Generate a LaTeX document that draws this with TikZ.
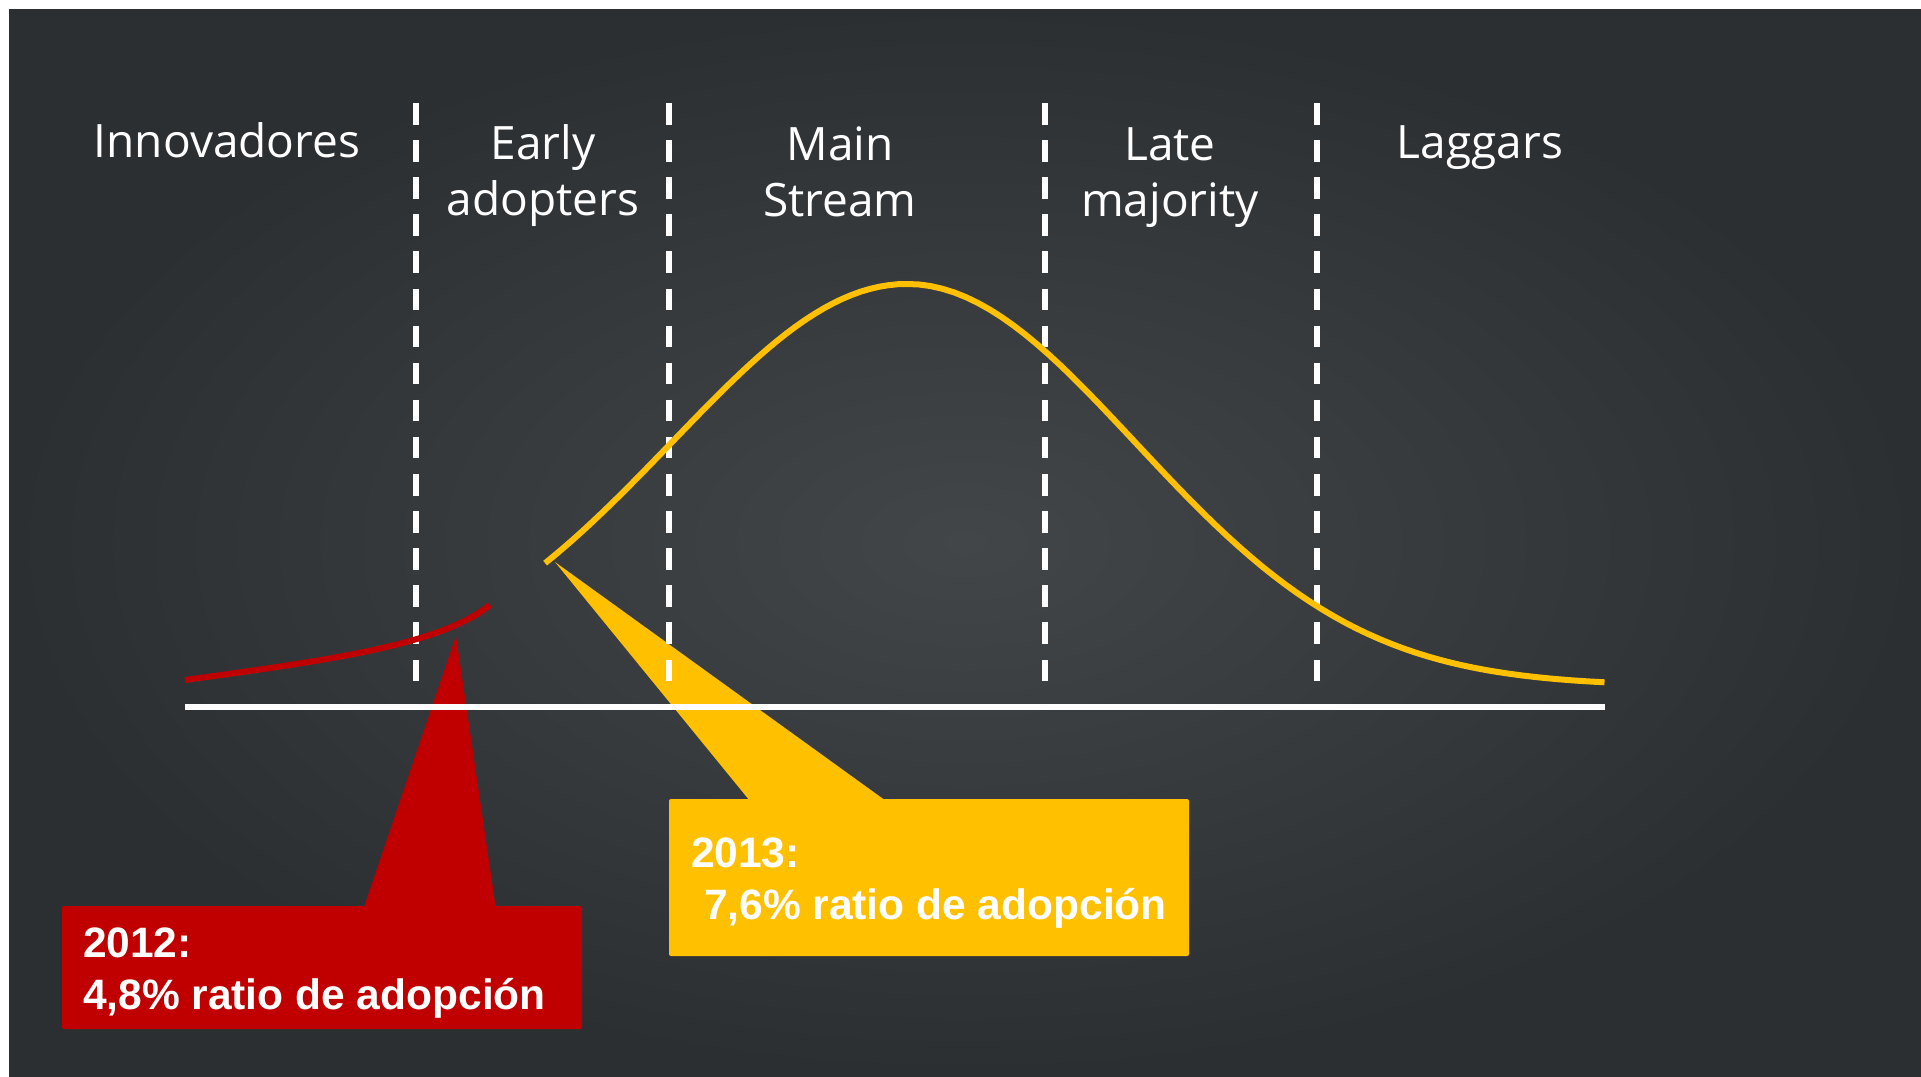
\documentclass[tikz,border=0pt]{standalone}
\usepackage{fontspec}
\setmainfont{Liberation Sans}
\newfontfamily\chalkfont{Open Sans}
\usetikzlibrary{calc,positioning}
\definecolor{boardgray}{RGB}{66,70,73}
\definecolor{boarddark}{RGB}{44,47,50}
\definecolor{adoptred}{RGB}{192,0,0}
\definecolor{adoptgold}{RGB}{255,192,0}

\begin{document}
\begin{tikzpicture}[x=1pt, y=-1pt,
  phase/.style={font=\chalkfont\fontsize{46}{56}\selectfont, text=white, align=center, inner sep=0pt, anchor=north, execute at begin node=\strut},
  divider/.style={white, line width=6.5pt, dash pattern=on 21.5pt off 15.6pt},
  callbox/.style={minimum width=520pt, inner sep=0pt, rounded corners=2pt},
  calltext/.style={font=\bfseries\fontsize{42.5}{52}\selectfont, text=white, align=left, inner sep=0pt, anchor=north west}]

  \useasboundingbox (0,0) rectangle (1921,1076);
  \fill[white] (0,0) rectangle (1921,1076);
  \shade[inner color=boardgray, outer color=boarddark] (9,9) rectangle (1921,1076);

  % callouts
  \node[callbox, fill=adoptred, minimum height=123pt] (box12) at (322,967.5) {};
  \coordinate (tip12) at (456,636);
  \fill[adoptred] (tip12) -- ($(box12.north west)+(302,2)$) -- ($(box12.north west)+(434,2)$) -- cycle;

  \node[callbox, fill=adoptgold, minimum height=157pt] (box13) at (929,877.5) {};
  \coordinate (tip13) at (555,562);
  \fill[adoptgold] (tip13) -- ($(box13.north west)+(81,2)$) -- ($(box13.north west)+(217,2)$) -- cycle;

  % axis and dividers
  \coordinate (axisL) at (185,707);
  \coordinate (axisR) at (1605,707);
  \draw[white, line width=6pt] (axisL) -- (axisR);
  \foreach \dx in {416,669,1045,1317}
    \draw[divider] (\dx,103) -- (\dx,684);

  % curves
  \draw[adoptred, line width=6pt] (185,680) .. controls (330,660) and (440,645) .. (490,605);
  \draw[adoptgold, line width=6pt] plot[domain=-1.54:0, samples=40] ({907+235*\x},{686-402*exp(-0.5*(\x)^2)})
    -- plot[domain=0:3.06, samples=60] ({907+228*\x},{686-402*exp(-0.5*(\x)^2)});

  % phase labels
  \node[phase] (innov) at (227,118) {Innovadores};
  \node[phase] (early) at (543,124) {Early\\adopters};
  \node[phase] (main) at (840,127) {Main\\Stream};
  \node[phase] (late) at (1170,127) {Late\\majority};
  \node[phase] (lagg) at (1480,119) {Laggars};

  % callout texts
  \node[calltext] (txt12) at ($(box12.north west)+(21,22)$) {2012:\\4,8\% ratio de adopción};
  \node[calltext] (txt13) at ($(box13.north west)+(22,39)$) {2013:\\\hspace*{13pt}7,6\% ratio de adopción};
\end{tikzpicture}
\end{document}
